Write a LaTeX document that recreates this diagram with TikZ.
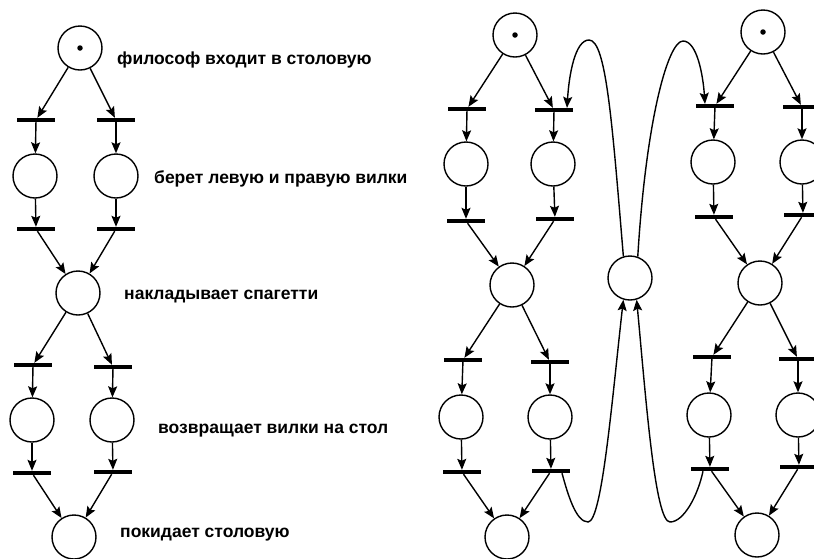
\documentclass[tikz,border=0pt]{standalone}
\usepackage{fontspec}
\setmainfont{Liberation Sans}
\usetikzlibrary{arrows.meta,calc}

\begin{document}
\begin{tikzpicture}[x=1pt,y=1pt,
  place/.style={circle,draw,line width=1.4pt,minimum size=44pt,inner sep=0pt},
  trans/.style={rectangle,fill=black,minimum width=38pt,minimum height=4pt,inner sep=0pt},
  arc/.style={line width=1.4pt,-{Stealth[length=11pt,width=9pt,inset=2pt]}},
  caption/.style={anchor=base west,inner sep=0pt,font=\bfseries\fontsize{17.5}{20}\selectfont},
  token/.style={circle,fill=black,inner sep=0pt,minimum size=5.5pt}]
\useasboundingbox (0,0) rectangle (814,-558);

% ---------- single philosopher ----------
\node[place] (LP0)  at (80,-48) {};
\node[token] (LK)   at (LP0.center) {};
\node[trans] (LT1a) at (36,-120) {};
\node[trans] (LT1b) at (116,-120) {};
\node[place] (LP1a) at (35,-176) {};
\node[place] (LP1b) at (116,-176) {};
\node[trans] (LT2a) at (36,-229) {};
\node[trans] (LT2b) at (116,-229) {};
\node[place] (LP2)  at (78,-293) {};
\node[trans] (LT3a) at (33,-365) {};
\node[trans] (LT3b) at (113,-367) {};
\node[place] (LP3a) at (32,-420) {};
\node[place] (LP3b) at (112,-420) {};
\node[trans] (LT4a) at (32,-473) {};
\node[trans] (LT4b) at (113,-472) {};
\node[place] (LP4)  at (74,-537) {};

\node[caption] (c1) at (117,-64)  {философ входит в столовую};
\node[caption] (c2) at (154,-183) {берет левую и правую вилки};
\node[caption] (c3) at (124,-299) {накладывает спагетти};
\node[caption] (c4) at (158,-433) {возвращает вилки на стол};
\node[caption] (c5) at (120,-537) {покидает столовую};

% ---------- two philosophers sharing a fork ----------
\node[place] (AP0)  at (515,-35) {};
\node[token] (AK)   at (AP0.center) {};
\node[trans] (AT1a) at (467,-109) {};
\node[trans] (AT1b) at (554,-110) {};
\node[place] (AP1a) at (466,-164) {};
\node[place] (AP1b) at (553,-164) {};
\node[trans] (AT2a) at (466,-221) {};
\node[trans] (AT2b) at (555,-219) {};
\node[place] (AP2)  at (512,-285) {};
\node[trans] (AT3a) at (463,-360) {};
\node[trans] (AT3b) at (550,-362) {};
\node[place] (AP3a) at (461,-417) {};
\node[place] (AP3b) at (550,-417) {};
\node[trans] (AT4a) at (462,-472) {};
\node[trans] (AT4b) at (551,-471) {};
\node[place] (AP4)  at (507,-537) {};

\node[place] (BP0)  at (763,-32) {};
\node[token] (BK)   at (BP0.center) {};
\node[trans] (BT1a) at (715,-106) {};
\node[trans] (BT1b) at (802,-107) {};
\node[place] (BP1a) at (713,-162) {};
\node[place] (BP1b) at (802,-162) {};
\node[trans] (BT2a) at (714,-217) {};
\node[trans] (BT2b) at (803,-215) {};
\node[place] (BP2)  at (760,-283) {};
\node[trans] (BT3a) at (712,-357) {};
\node[trans] (BT3b) at (798,-359) {};
\node[place] (BP3a) at (709,-415) {};
\node[place] (BP3b) at (798,-415) {};
\node[trans] (BT4a) at (710,-469) {};
\node[trans] (BT4b) at (799,-467) {};
\node[place] (BP4)  at (757,-535) {};

\node[place] (F) at (630,-278) {};

% ---------- arcs of each philosopher ----------
\foreach \n in {L,A,B}{
  \draw[arc] (\n P0) -- (\n T1a);
  \draw[arc] (\n P0) -- (\n T1b);
  \draw[arc] (\n T1a) -- (\n P1a);
  \draw[arc] (\n T1b) -- (\n P1b);
  \draw[arc] (\n P1a) -- (\n T2a);
  \draw[arc] (\n P1b) -- (\n T2b);
  \draw[arc] (\n T2a) -- (\n P2);
  \draw[arc] (\n T2b) -- (\n P2);
  \draw[arc] (\n P2) -- (\n T3a);
  \draw[arc] (\n P2) -- (\n T3b);
  \draw[arc] (\n T3a) -- (\n P3a);
  \draw[arc] (\n T3b) -- (\n P3b);
  \draw[arc] (\n P3a) -- (\n T4a);
  \draw[arc] (\n P3b) -- (\n T4b);
  \draw[arc] (\n T4a) -- (\n P4);
  \draw[arc] (\n T4b) -- (\n P4);
}

% ---------- shared fork ----------
\coordinate (pkA) at (589,-40);
\coordinate (pkB) at (683,-41);
\coordinate (inA) at ($(AT1b.north)+(13,0)$);
\coordinate (inB) at ($(BT1a.north)+(-10,0)$);
\coordinate (vA)  at (588,-522);
\coordinate (vB)  at (670,-522);
\coordinate (outA) at ($(AT4b.south)+(11,0)$);
\coordinate (outB) at ($(BT4a.south)+(-7,0)$);

\draw[arc] (F.107) .. controls (612,-120) and (606,-40) .. (pkA)
                   .. controls (575,-40) and (569,-75) .. (inA);
\draw[arc] (F.70) .. controls (646,-120) and (668,-41) .. (pkB)
                  .. controls (697,-41) and (703,-75) .. (inB);
\draw[arc] (outA) .. controls (568,-495) and (576,-522) .. (vA)
                  .. controls (602,-522) and (612,-400) .. (F.253);
\draw[arc] (outB) .. controls (698,-495) and (684,-522) .. (vB)
                  .. controls (655,-522) and (646,-400) .. (F.287);
\end{tikzpicture}
\end{document}
